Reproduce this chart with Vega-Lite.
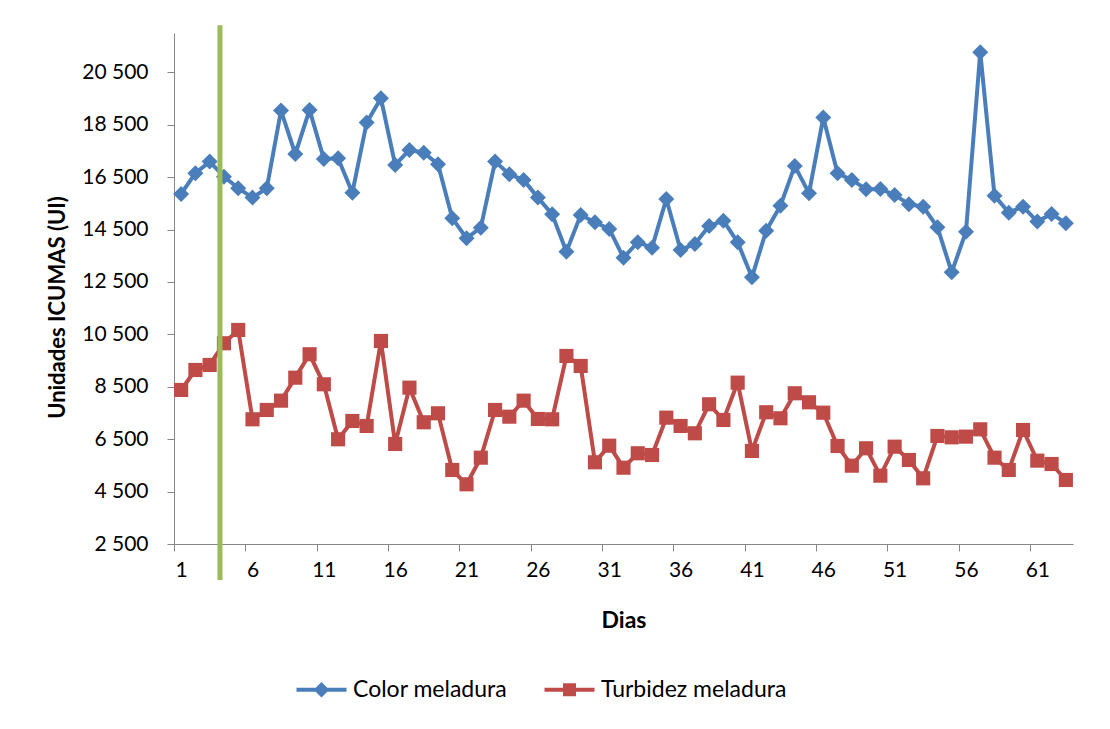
{
  "$schema": "https://vega.github.io/schema/vega-lite/v6.json",
  "width": 899,
  "height": 511,
  "autosize": {"type": "none"},
  "padding": {"left": 174, "top": 33, "right": 37, "bottom": 185},
  "background": "white",
  "config": {"view": {"stroke": null}, "font": "Lato"},
  "datasets": {
    "series": [
      {"dia":1,"serie":"Color meladura","valor":15859},{"dia":2,"serie":"Color meladura","valor":16649},{"dia":3,"serie":"Color meladura","valor":17092},{"dia":4,"serie":"Color meladura","valor":16519},{"dia":5,"serie":"Color meladura","valor":16076},{"dia":6,"serie":"Color meladura","valor":15718},{"dia":7,"serie":"Color meladura","valor":16076},{"dia":8,"serie":"Color meladura","valor":19038},{"dia":9,"serie":"Color meladura","valor":17385},{"dia":10,"serie":"Color meladura","valor":19065},
      {"dia":11,"serie":"Color meladura","valor":17195},{"dia":12,"serie":"Color meladura","valor":17220},{"dia":13,"serie":"Color meladura","valor":15908},{"dia":14,"serie":"Color meladura","valor":18580},{"dia":15,"serie":"Color meladura","valor":19511},{"dia":16,"serie":"Color meladura","valor":16966},{"dia":17,"serie":"Color meladura","valor":17538},{"dia":18,"serie":"Color meladura","valor":17435},{"dia":19,"serie":"Color meladura","valor":16992},{"dia":20,"serie":"Color meladura","valor":14931},
      {"dia":21,"serie":"Color meladura","valor":14168},{"dia":22,"serie":"Color meladura","valor":14570},{"dia":23,"serie":"Color meladura","valor":17092},{"dia":24,"serie":"Color meladura","valor":16610},{"dia":25,"serie":"Color meladura","valor":16393},{"dia":26,"serie":"Color meladura","valor":15718},{"dia":27,"serie":"Color meladura","valor":15084},{"dia":28,"serie":"Color meladura","valor":13656},{"dia":29,"serie":"Color meladura","valor":15057},{"dia":30,"serie":"Color meladura","valor":14779},
      {"dia":31,"serie":"Color meladura","valor":14523},{"dia":32,"serie":"Color meladura","valor":13427},{"dia":33,"serie":"Color meladura","valor":14015},{"dia":34,"serie":"Color meladura","valor":13809},{"dia":35,"serie":"Color meladura","valor":15668},{"dia":36,"serie":"Color meladura","valor":13721},{"dia":37,"serie":"Color meladura","valor":13950},{"dia":38,"serie":"Color meladura","valor":14637},{"dia":39,"serie":"Color meladura","valor":14840},{"dia":40,"serie":"Color meladura","valor":14015},
      {"dia":41,"serie":"Color meladura","valor":12679},{"dia":42,"serie":"Color meladura","valor":14458},{"dia":43,"serie":"Color meladura","valor":15412},{"dia":44,"serie":"Color meladura","valor":16927},{"dia":45,"serie":"Color meladura","valor":15885},{"dia":46,"serie":"Color meladura","valor":18771},{"dia":47,"serie":"Color meladura","valor":16649},{"dia":48,"serie":"Color meladura","valor":16393},{"dia":49,"serie":"Color meladura","valor":16038},{"dia":50,"serie":"Color meladura","valor":16050},
      {"dia":51,"serie":"Color meladura","valor":15821},{"dia":52,"serie":"Color meladura","valor":15466},{"dia":53,"serie":"Color meladura","valor":15374},{"dia":54,"serie":"Color meladura","valor":14588},{"dia":55,"serie":"Color meladura","valor":12870},{"dia":56,"serie":"Color meladura","valor":14420},{"dia":57,"serie":"Color meladura","valor":21267},{"dia":58,"serie":"Color meladura","valor":15794},{"dia":59,"serie":"Color meladura","valor":15145},{"dia":60,"serie":"Color meladura","valor":15374},
      {"dia":61,"serie":"Color meladura","valor":14802},{"dia":62,"serie":"Color meladura","valor":15095},{"dia":63,"serie":"Color meladura","valor":14741},
      {"dia":1,"serie":"Turbidez meladura","valor":8378},{"dia":2,"serie":"Turbidez meladura","valor":9141},{"dia":3,"serie":"Turbidez meladura","valor":9332},{"dia":4,"serie":"Turbidez meladura","valor":10160},{"dia":5,"serie":"Turbidez meladura","valor":10668},{"dia":6,"serie":"Turbidez meladura","valor":7259},{"dia":7,"serie":"Turbidez meladura","valor":7615},{"dia":8,"serie":"Turbidez meladura","valor":7970},{"dia":9,"serie":"Turbidez meladura","valor":8847},{"dia":10,"serie":"Turbidez meladura","valor":9740},
      {"dia":11,"serie":"Turbidez meladura","valor":8595},{"dia":12,"serie":"Turbidez meladura","valor":6496},{"dia":13,"serie":"Turbidez meladura","valor":7195},{"dia":14,"serie":"Turbidez meladura","valor":7004},{"dia":15,"serie":"Turbidez meladura","valor":10248},{"dia":16,"serie":"Turbidez meladura","valor":6317},{"dia":17,"serie":"Turbidez meladura","valor":8466},{"dia":18,"serie":"Turbidez meladura","valor":7145},{"dia":19,"serie":"Turbidez meladura","valor":7488},{"dia":20,"serie":"Turbidez meladura","valor":5324},
      {"dia":21,"serie":"Turbidez meladura","valor":4778},{"dia":22,"serie":"Turbidez meladura","valor":5794},{"dia":23,"serie":"Turbidez meladura","valor":7615},{"dia":24,"serie":"Turbidez meladura","valor":7359},{"dia":25,"serie":"Turbidez meladura","valor":7970},{"dia":26,"serie":"Turbidez meladura","valor":7271},{"dia":27,"serie":"Turbidez meladura","valor":7259},{"dia":28,"serie":"Turbidez meladura","valor":9676},{"dia":29,"serie":"Turbidez meladura","valor":9294},{"dia":30,"serie":"Turbidez meladura","valor":5618},
      {"dia":31,"serie":"Turbidez meladura","valor":6252},{"dia":32,"serie":"Turbidez meladura","valor":5412},{"dia":33,"serie":"Turbidez meladura","valor":5962},{"dia":34,"serie":"Turbidez meladura","valor":5897},{"dia":35,"serie":"Turbidez meladura","valor":7321},{"dia":36,"serie":"Turbidez meladura","valor":7004},{"dia":37,"serie":"Turbidez meladura","valor":6725},{"dia":38,"serie":"Turbidez meladura","valor":7832},{"dia":39,"serie":"Turbidez meladura","valor":7233},{"dia":40,"serie":"Turbidez meladura","valor":8657},
      {"dia":41,"serie":"Turbidez meladura","valor":6050},{"dia":42,"serie":"Turbidez meladura","valor":7527},{"dia":43,"serie":"Turbidez meladura","valor":7298},{"dia":44,"serie":"Turbidez meladura","valor":8252},{"dia":45,"serie":"Turbidez meladura","valor":7908},{"dia":46,"serie":"Turbidez meladura","valor":7511},{"dia":47,"serie":"Turbidez meladura","valor":6240},{"dia":48,"serie":"Turbidez meladura","valor":5489},{"dia":49,"serie":"Turbidez meladura","valor":6152},{"dia":50,"serie":"Turbidez meladura","valor":5107},
      {"dia":51,"serie":"Turbidez meladura","valor":6214},{"dia":52,"serie":"Turbidez meladura","valor":5706},{"dia":53,"serie":"Turbidez meladura","valor":5007},{"dia":54,"serie":"Turbidez meladura","valor":6622},{"dia":55,"serie":"Turbidez meladura","valor":6571},{"dia":56,"serie":"Turbidez meladura","valor":6597},{"dia":57,"serie":"Turbidez meladura","valor":6876},{"dia":58,"serie":"Turbidez meladura","valor":5794},{"dia":59,"serie":"Turbidez meladura","valor":5324},{"dia":60,"serie":"Turbidez meladura","valor":6851},
      {"dia":61,"serie":"Turbidez meladura","valor":5681},{"dia":62,"serie":"Turbidez meladura","valor":5553},{"dia":63,"serie":"Turbidez meladura","valor":4943}
    ],
    "marcador": [{"dia": 3.72, "arriba": 22300, "abajo": 1130}]
  },
  "layer": [
    {
      "data": {"name": "series"},
      "mark": {"type": "line", "strokeWidth": 4},
      "encoding": {
        "x": {
          "field": "dia", "type": "quantitative", "title": "Dias",
          "scale": {"domain": [0.5, 63.5], "nice": false, "zero": false},
          "axis": {
            "values": [1, 6, 11, 16, 21, 26, 31, 36, 41, 46, 51, 56, 61],
            "grid": false, "tickOffset": -7.135, "labelOffset": 7.135,
            "domainColor": "#868686", "tickColor": "#868686", "tickSize": 7,
            "labelFont": "Lato", "labelFontSize": 21, "labelColor": "#000000", "labelPadding": 8,
            "labelFlush": false, "labelOverlap": false,
            "titleFont": "Lato", "titleFontSize": 23, "titleFontWeight": "bold", "titleColor": "#000000", "titlePadding": 29
          }
        },
        "y": {
          "field": "valor", "type": "quantitative", "title": "Unidades ICUMAS (UI)",
          "scale": {"domain": [2500, 22000], "nice": false, "zero": false},
          "axis": {
            "values": [2500, 4500, 6500, 8500, 10500, 12500, 14500, 16500, 18500, 20500],
            "labelExpr": "replace(format(datum.value, ',d'), ',', ' ')",
            "grid": false, "domainColor": "#868686", "tickColor": "#868686", "tickSize": 7,
            "labelFont": "Lato", "labelFontSize": 21, "labelColor": "#000000", "labelPadding": 19,
            "labelFlush": false, "labelOverlap": false,
            "titleFont": "Lato", "titleFontSize": 22, "titleFontWeight": "bold", "titleColor": "#000000", "titlePadding": 12,
            "titleY": 274
          }
        },
        "color": {
          "field": "serie", "type": "nominal",
          "scale": {"domain": ["Color meladura", "Turbidez meladura"], "range": ["#4A7EBB", "#BE4B48"]},
          "legend": {
            "orient": "none", "legendX": 136, "legendY": 645, "direction": "horizontal",
            "title": null, "labelFont": "Lato", "labelFontSize": 23, "labelColor": "#000000", "labelLimit": 500,
            "symbolSize": 400, "labelOffset": 20, "columnPadding": 36, "padding": 0,
            "encode": {
              "symbols": {
                "update": {
                  "shape": {"signal": "datum.value === 'Color meladura' ? 'M-2.5,-0.2H2.5V0.2H-2.5Z M0,-0.78L0.78,0L0,0.78L-0.78,0Z' : 'M-2.5,-0.2H2.5V0.2H-2.5Z M-0.65,-0.65H0.65V0.65H-0.65Z'"},
                  "fill": {"signal": "datum.value === 'Color meladura' ? '#4A7EBB' : '#BE4B48'"},
                  "strokeWidth": {"value": 0},
                  "opacity": {"value": 1}
                }
              }
            }
          }
        }
      }
    },
    {
      "data": {"name": "series"},
      "mark": {"type": "point", "filled": true, "opacity": 1},
      "encoding": {
        "x": {"field": "dia", "type": "quantitative", "title": "Dias"},
        "y": {"field": "valor", "type": "quantitative", "title": "Unidades ICUMAS (UI)"},
        "fill": {
          "field": "serie", "type": "nominal",
          "scale": {"domain": ["Turbidez meladura", "Color meladura"], "range": ["#BE4B48", "#4A7EBB"]},
          "legend": null
        },
        "shape": {
          "field": "serie", "type": "nominal",
          "scale": {"domain": ["Turbidez meladura", "Color meladura"], "range": ["square", "diamond"]},
          "legend": null
        },
        "size": {
          "field": "serie", "type": "nominal",
          "scale": {"domain": ["Turbidez meladura", "Color meladura"], "range": [200, 256]},
          "legend": null
        }
      }
    },
    {
      "data": {"name": "marcador"},
      "mark": {"type": "rule", "color": "#9BBB59", "strokeWidth": 5},
      "encoding": {
        "x": {"field": "dia", "type": "quantitative", "title": "Dias"},
        "y": {"field": "arriba", "type": "quantitative", "title": "Unidades ICUMAS (UI)"},
        "y2": {"field": "abajo"}
      }
    }
  ]
}
